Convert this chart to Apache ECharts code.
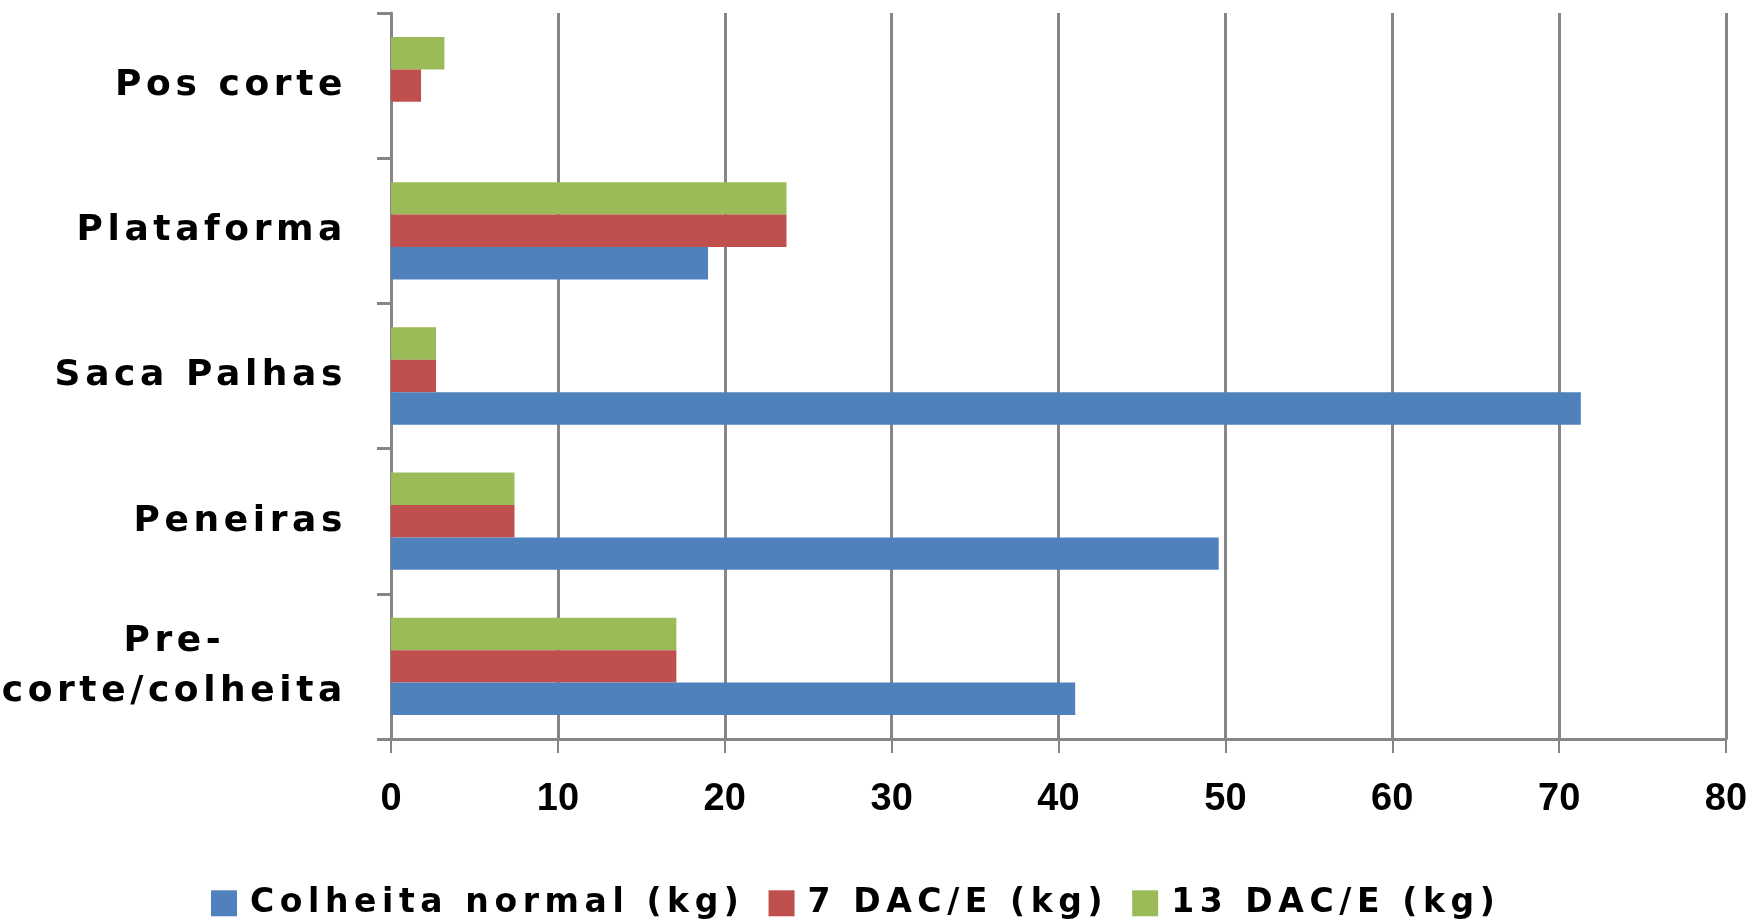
<!DOCTYPE html>
<html>
<head>
<meta charset="utf-8">
<script src="https://cdn.jsdelivr.net/npm/echarts@6/dist/echarts.min.js"></script>
<style>
html,body{margin:0;padding:0;background:#fff;}
#chart{width:1755px;height:921px;}
</style>
</head>
<body>
<div id="chart"></div>
<script>
var categories = ["Pre-corte/colheita", "Peneiras", "Saca Palhas", "Plataforma", "Pos corte"];
var seriesNames = ["Colheita normal (kg)", "7 DAC/E (kg)", "13 DAC/E (kg)"];
var colheitaNormal = [41.0, 49.6, 71.3, 19.0, 0];
var dac7 = [17.1, 7.4, 2.7, 23.7, 1.8];
var dac13 = [17.1, 7.4, 2.7, 23.7, 3.2];
var xTicks = [0, 10, 20, 30, 40, 50, 60, 70, 80];

var colors = {normal: "#4F81BD", d7: "#C0504D", d13: "#9BBB59"};
var gridColor = "#868686";
var labelFont = "DejaVu Sans";

// letter spacing (as in the original chart) keyed by font size
function spacingFor(font) {
  var m = /(\d+(?:\.\d+)?)px/.exec(font || '');
  if (!m) return 0;
  var s = parseFloat(m[1]);
  if (s === 36) return 4.6;
  if (s === 33) return 5.6;
  return 0;
}
(function () {
  var proto = CanvasRenderingContext2D.prototype;
  if (!('letterSpacing' in proto)) return;
  var origFill = proto.fillText;
  proto.fillText = function (t, x, y, w) {
    var sp = spacingFor(this.font);
    this.letterSpacing = sp + 'px';
    var r = w === undefined ? origFill.call(this, t, x, y) : origFill.call(this, t, x, y, w);
    this.letterSpacing = '0px';
    return r;
  };
  var mctx = document.createElement('canvas').getContext('2d');
  echarts.setPlatformAPI({
    measureText: function (text, font) {
      mctx.font = font || '12px sans-serif';
      mctx.letterSpacing = spacingFor(mctx.font) + 'px';
      return mctx.measureText(text || '');
    }
  });
})();

var chart = echarts.init(document.getElementById('chart'), null, {renderer: 'canvas'});
var option = {
  animation: false,
  backgroundColor: '#ffffff',
  grid: {left: 391, right: 29, top: 13, bottom: 182, containLabel: false, outerBoundsMode: 'none'},
  legend: {
    top: 879,
    left: 206,
    itemWidth: 26,
    itemHeight: 26,
    itemGap: 24,
    icon: 'rect',
    textStyle: {fontFamily: labelFont, fontWeight: 'bold', fontSize: 33, color: '#000', padding: [0, 0, 0, 8]},
    data: seriesNames
  },
  xAxis: {
    type: 'value',
    min: xTicks[0],
    max: xTicks[xTicks.length - 1],
    interval: 10,
    axisLine: {show: true, lineStyle: {color: gridColor, width: 3}},
    axisTick: {show: true, length: 14, lineStyle: {color: gridColor, width: 2}},
    splitLine: {show: true, lineStyle: {color: gridColor, width: 3}},
    axisLabel: {
      margin: 42,
      fontFamily: "Liberation Sans Narrow, Liberation Sans, sans-serif",
      fontWeight: 'bold',
      fontSize: 38,
      color: '#000'
    }
  },
  yAxis: {
    type: 'category',
    data: categories,
    axisLine: {show: true, lineStyle: {color: gridColor, width: 3}},
    axisTick: {show: true, length: 14, alignWithLabel: false, lineStyle: {color: gridColor, width: 3}},
    splitLine: {show: false},
    axisLabel: {
      margin: 44,
      fontFamily: labelFont,
      fontWeight: 'bold',
      fontSize: 36,
      color: '#000',
      lineHeight: 50,
      formatter: function (v) {
        if (v.indexOf('-') >= 0) {
          var parts = v.split('-');
          return '{c|' + parts[0] + '-}\n{c|' + parts.slice(1).join('-') + '}';
        }
        return v;
      },
      rich: {
        c: {align: 'center', fontFamily: labelFont, fontWeight: 'bold', fontSize: 36, color: '#000', lineHeight: 50}
      }
    }
  },
  series: [
    {name: seriesNames[2], type: 'bar', data: dac13, itemStyle: {color: colors.d13}, barGap: '0%', barCategoryGap: '33%'},
    {name: seriesNames[1], type: 'bar', data: dac7, itemStyle: {color: colors.d7}, barGap: '0%', barCategoryGap: '33%'},
    {name: seriesNames[0], type: 'bar', data: colheitaNormal, itemStyle: {color: colors.normal}, barGap: '0%', barCategoryGap: '33%'}
  ]
};
chart.setOption(option);
</script>
</body>
</html>
